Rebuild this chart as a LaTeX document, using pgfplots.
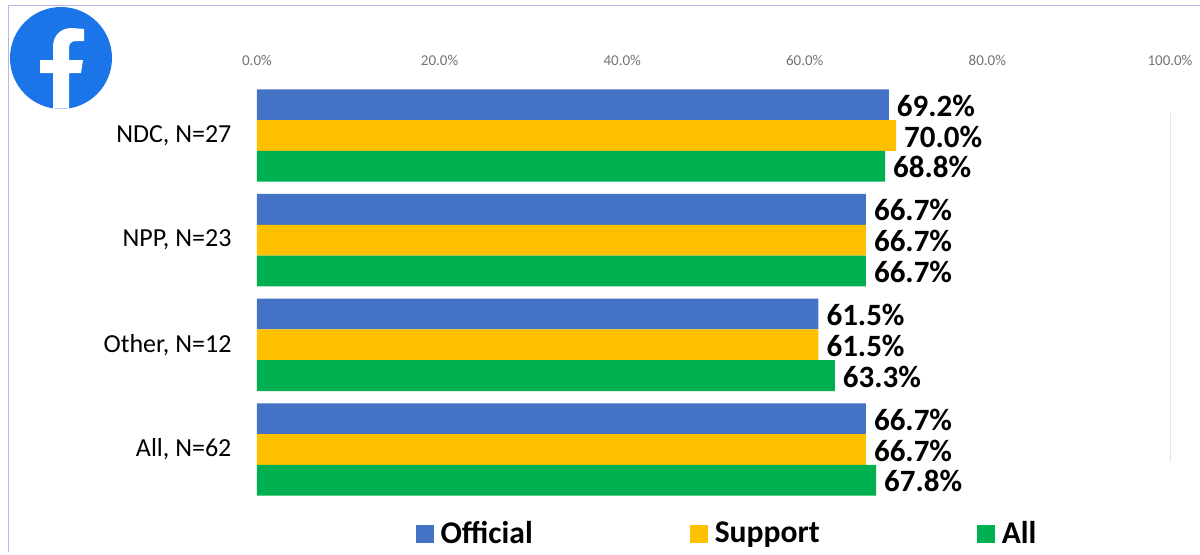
\documentclass[border=0pt]{standalone}
\usepackage{pgfplots}
\pgfplotsset{compat=1.18}
\usepackage{fontspec}
\setmainfont{Carlito}
\definecolor{cOff}{HTML}{4472C4}
\definecolor{cSup}{HTML}{FFC000}
\definecolor{cAll}{HTML}{00B050}
\definecolor{cFb}{HTML}{1B74E8}
\definecolor{cFrame}{HTML}{B9B6E6}
\begin{document}
\begin{tikzpicture}
\path[use as bounding box] (0pt,0pt) rectangle (600pt,-277pt);
\begin{scope}[x=0.5pt,y=-0.5pt]
\draw[cFrame,line width=0.6pt] (1200,5.5) -- (8.5,5.5) -- (8.5,552);
\draw[black!10,line width=0.4pt] (1170,113) -- (1170,462);
\end{scope}
\begin{axis}[
  at={(128.5pt,-250.9pt)}, anchor=south west,
  scale only axis, width=456.5pt, height=209.33pt,
  xmin=0, xmax=100, ymin=-0.5, ymax=3.5,
  axis line style={draw=none},
  xtick={0,20,40,60,80,100},
  xticklabel pos=top,
  xticklabel style={text=black!55, font=\fontsize{7.5}{9}\selectfont, /pgf/number format/assume math mode=true},
  xticklabel={\pgfmathprintnumber[fixed,fixed zerofill,precision=1]{\tick}\%},
  x tick label style={yshift=5pt},
  ytick={0,1,2,3},
  yticklabels={{All, N=62},{Other, N=12},{NPP, N=23},{NDC, N=27}},
  yticklabel style={font=\fontsize{13}{15}\selectfont, text=black, xshift=-5pt},
  tick style={draw=none},
  xbar, bar width=15.4pt,
  point meta=x,
  nodes near coords={\pgfmathprintnumber[fixed,fixed zerofill,precision=1,assume math mode=true]{\pgfplotspointmeta}\%},
  nodes near coords align={horizontal},
  every node near coord/.append style={font=\fontsize{15.5}{18}\selectfont\bfseries, text=black, xshift=0.5pt, yshift=-0.5pt},
  legend columns=3,
  legend style={at={(0.5159,-0.0765)}, anchor=center, draw=none, fill=none, font=\fontsize{15.8}{18}\selectfont\bfseries,
    /tikz/column 1/.style={column sep=1.5pt}, /tikz/column 3/.style={column sep=1.5pt}, /tikz/column 5/.style={column sep=1.5pt},
    /tikz/column 2/.style={column sep=76.5pt}, /tikz/column 4/.style={column sep=76.5pt}},
  legend cell align=left,
  clip=false,
]
\addplot[draw=none, fill=cOff, bar shift=15.4pt,
  legend image code/.code={\fill[cOff] (0,-4.5pt) rectangle (9pt,4.5pt);}]
  coordinates {(69.2,3) (66.7,2) (61.5,1) (66.7,0)};
\addlegendentry{Official}
\addplot[draw=none, fill=cSup, bar shift=0pt,
  legend image code/.code={\fill[cSup] (0,-4.5pt) rectangle (9pt,4.5pt);}]
  coordinates {(70.0,3) (66.7,2) (61.5,1) (66.7,0)};
\addlegendentry{Support}
\addplot[draw=none, fill=cAll, bar shift=-15.4pt,
  legend image code/.code={\fill[cAll] (0,-4.5pt) rectangle (9pt,4.5pt);}]
  coordinates {(68.8,3) (66.7,2) (63.3,1) (67.8,0)};
\addlegendentry{All}
\end{axis}
\begin{scope}[x=0.5pt,y=-0.5pt]
\fill[cFb] (61,58) circle[radius=25.5pt];
\fill[white] (53,108.5) -- (53,73) -- (40,73) -- (40,60) -- (53,60) -- (53,47)
  .. controls (53,35) and (61,28) .. (72,28) -- (84,29) -- (84,41) -- (76,41)
  .. controls (71,41) and (69,44) .. (69,48) -- (69,60) -- (83,60) -- (81,73) -- (69,73) -- (69,108.5) -- cycle;
\end{scope}
\end{tikzpicture}
\end{document}
